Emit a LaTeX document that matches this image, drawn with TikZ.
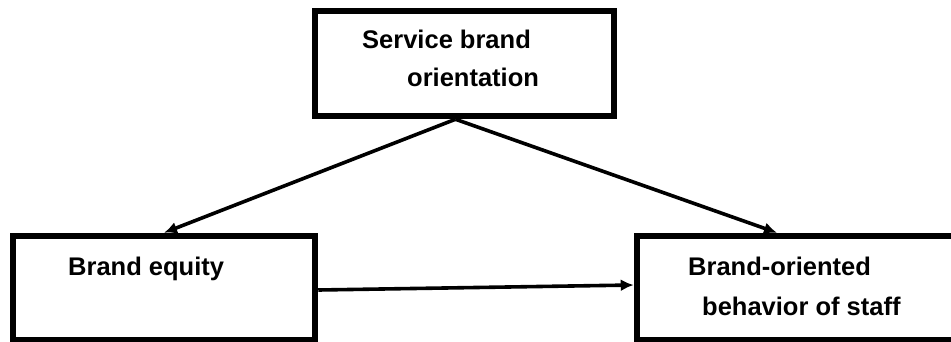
\documentclass[tikz,border=0pt]{standalone}
\usepackage{fontspec}
\setmainfont{Liberation Sans}
\usepackage{tikz}
\usetikzlibrary{
  positioning,
  arrows.meta,
  arrows
}

\begin{document}
\begin{tikzpicture}[x=1pt,y=-1pt,>={Latex[length=13pt,width=12pt]},
    box/.style={draw,line width=6.5pt,inner sep=0pt},
    lbl/.style={anchor=base west,inner sep=0pt,font=\bfseries\fontsize{25.5}{30}\selectfont},
    link/.style={->,line width=3.6pt}]
                \useasboundingbox (0,0) rectangle (951,341);
                % boxes
                \node[box,minimum width=299pt,minimum height=105pt] (sbo) at (464.5,63.5) {};
                \node[box,minimum width=302pt,minimum height=104pt] (equity) at (164,288) {};
                \node[box,minimum width=318pt,minimum height=104pt] (staff) at (796,288) {};
                % labels
                \node[lbl] (sbo1) at (362,48) {Service brand};
                \node[lbl] (sbo2) at (407,86) {orientation};
                \node[lbl] (equity1) at (68,275) {Brand equity};
                \node[lbl] (staff1) at (688,275) {Brand-oriented};
                \node[lbl] (staff2) at (702,315) {behavior of staff};
                % arrows
                \draw[link] ([xshift=-9pt]sbo.south) -- (equity.north);
                \draw[link] ([xshift=-9pt]sbo.south) -- ([xshift=-19pt]staff.north);
                \draw[link] ([yshift=-2pt]equity.east) -- ([yshift=3pt]staff.west);
            \end{tikzpicture}
\end{document}
